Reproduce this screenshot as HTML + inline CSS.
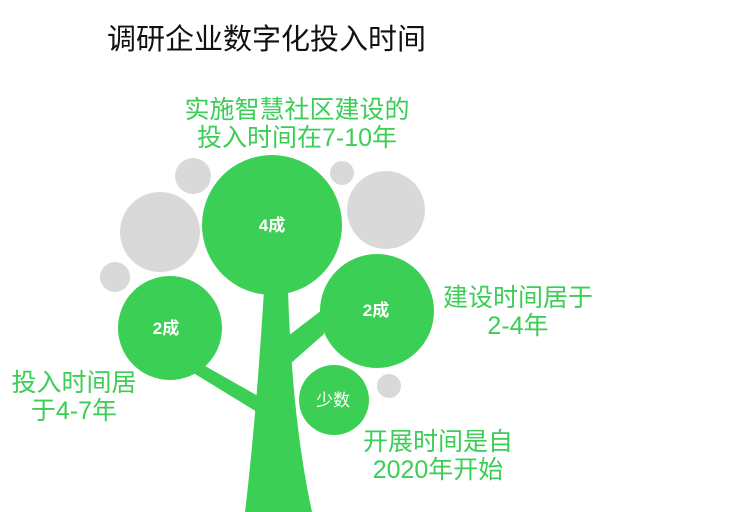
<!DOCTYPE html>
<html><head><meta charset="utf-8"><style>
body{margin:0;width:740px;height:512px;background:#fff;overflow:hidden;position:relative;font-family:"Liberation Sans","Noto Sans CJK SC",sans-serif}
.t{position:absolute;white-space:nowrap;color:#3bcd55;font-size:25px;line-height:28px}
</style></head><body>
<svg width="740" height="512" style="position:absolute;left:0;top:0">
<g fill="#d9d9d9">
<circle cx="193" cy="176" r="18"/><circle cx="160" cy="232" r="40"/><circle cx="115" cy="277" r="15"/>
<circle cx="342" cy="173" r="12"/><circle cx="386" cy="210" r="39"/><circle cx="389" cy="386" r="12"/>
</g>
<g fill="#3bcf55">
<path d="M264,290 L288,290 Q292,420 312,512 L245,512 Q256,420 264,290Z"/>
<path d="M198,362 L258,396 L257,412 L195,374Z"/>
<path d="M288,336 L322,310 L324,334 L290,364Z"/>
<circle cx="272" cy="225" r="70"/>
<circle cx="170" cy="328" r="52"/>
<circle cx="377" cy="311" r="57"/>
<circle cx="334" cy="400" r="35"/>
</g>
<g fill="#fff" font-family="Liberation Sans,Noto Sans CJK SC,sans-serif" text-anchor="middle">
<text x="272" y="231" font-size="17" font-weight="bold">4成</text>
<text x="166" y="334" font-size="17" font-weight="bold">2成</text>
<text x="376" y="316" font-size="17" font-weight="bold">2成</text>
<text x="333" y="406" font-size="17">少数</text>
</g>
</svg>
<div class="t" style="left:107px;top:22px;color:#111;font-size:29px;line-height:36px">调研企业数字化投入时间</div>
<div class="t" style="left:157px;top:96px;text-align:center;width:280px">实施智慧社区建设的<br>投入时间在7-10年</div>
<div class="t" style="left:441px;top:284px;text-align:center;width:154px">建设时间居于<br>2-4年</div>
<div class="t" style="left:8px;top:369px;text-align:center;width:132px">投入时间居<br>于4-7年</div>
<div class="t" style="left:361px;top:428px;text-align:center;width:154px">开展时间是自<br>2020年开始</div>
</body></html>
